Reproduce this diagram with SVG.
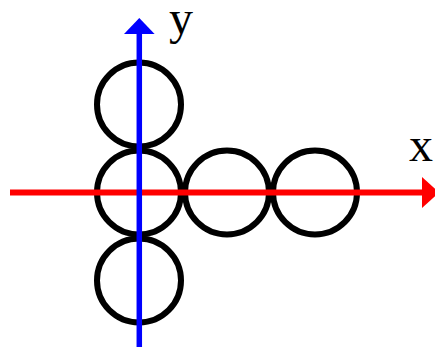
<svg xmlns="http://www.w3.org/2000/svg" width="435" height="347" viewBox="0 0 435 347">
<style>
.c{fill:none;stroke:#000;stroke-width:6}
.t{font-family:"Liberation Serif","Times New Roman",serif;font-size:48px;fill:#000}
</style>
<rect width="435" height="347" fill="#fff"/>
<g id="circles">
<g id="c-top"><circle class="c" cx="139" cy="104.5" r="42"/></g>
<g id="c-center"><circle class="c" cx="139" cy="192.5" r="42"/></g>
<g id="c-bottom"><circle class="c" cx="139" cy="280.5" r="42"/></g>
<g id="c-right1"><circle class="c" cx="227" cy="192.5" r="42"/></g>
<g id="c-right2"><circle class="c" cx="315" cy="192.5" r="42"/></g>
</g>
<g id="axes">
<line x1="10" y1="192.5" x2="423" y2="192.5" stroke="#f00" stroke-width="6"/>
<polygon points="422,177 439,192.5 422,208" fill="#f00"/>
<line x1="139.3" y1="347" x2="139.3" y2="33" stroke="#00f" stroke-width="5.5"/>
<polygon points="124,34 139.3,18 154.6,34" fill="#00f"/>
</g>
<text class="t" x="409" y="161">x</text>
<text class="t" x="169" y="33.5">y</text>
</svg>
